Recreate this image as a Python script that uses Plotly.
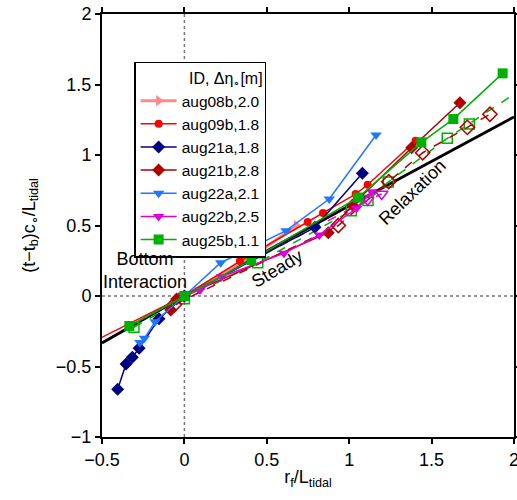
import plotly.graph_objects as go

# ---- data (normalized r_f/L_tidal , (t-t_b)c/L_tidal) ----
ids = ["aug08b,2.0", "aug09b,1.8", "aug21a,1.8", "aug21b,2.8", "aug22a,2.1", "aug22b,2.5", "aug25b,1.1"]

aug08b_x = [0.0, 0.45, 0.68]
aug08b_y = [0.0, 0.31, 0.50]

aug09b_x = [-0.55, 0.0, 0.337, 0.434, 0.748, 0.841, 1.039, 1.112, 1.403]
aug09b_y = [-0.322, 0.0, 0.248, 0.312, 0.525, 0.589, 0.723, 0.789, 1.101]

aug21a_x = [-0.405, -0.354, -0.316, -0.275, -0.154, 0.0, 0.792, 1.080]
aug21a_y = [-0.662, -0.482, -0.435, -0.371, -0.161, 0.0, 0.487, 0.870]

aug21b_x = [-0.083, -0.047, 0.873, 1.02, 1.379, 1.672]
aug21b_y = [-0.099, -0.021, 0.449, 0.645, 1.052, 1.371]
aug21b_open_x = [-0.06, 0.934, 1.240, 1.446, 1.717, 1.854]
aug21b_open_y = [-0.06, 0.500, 0.811, 1.016, 1.196, 1.289]

aug22a_x = [-0.27, -0.243, -0.178, 0.0, 0.220, 0.617, 0.879, 1.163]
aug22a_y = [-0.33, -0.300, -0.182, 0.0, 0.236, 0.463, 0.688, 1.142]

aug22b_x = [0.0, 0.095, 0.226, 0.604, 0.819, 1.045, 1.136]
aug22b_y = [0.0, 0.043, 0.137, 0.303, 0.433, 0.622, 0.740]
aug22b_open_x = [0.0, 1.112, 1.197]
aug22b_open_y = [0.0, 0.681, 0.723]

aug25b_x = [-0.334, 0.0, 0.406, 1.053, 1.438, 1.632, 1.931]
aug25b_y = [-0.213, 0.0, 0.255, 0.698, 1.090, 1.255, 1.579]
aug25b_open_x = [-0.306, 0.0, 0.445, 1.013, 1.114, 1.237, 1.595, 1.729, 2.05]
aug25b_open_y = [-0.222, -0.02, 0.236, 0.604, 0.678, 0.808, 1.118, 1.220, 1.47]

theory_x = [-0.5, 0.0, 1.0, 2.0]
theory_y = [-0.333, 0.0, 0.64, 1.27]

C08 = "#ff8a8a"
C09 = "#ff0000"
C21a = "#000080"
C21b = "#b00000"
C22a = "#1e78ff"
C22b = "#dd00dd"
C25 = "#00b000"

fig = go.Figure()

# theory line
fig.add_trace(go.Scatter(x=theory_x, y=theory_y, mode="lines",
                         line=dict(color="black", width=2.8), showlegend=False, hoverinfo="skip"))

# open (dashed) series
fig.add_trace(go.Scatter(x=aug25b_open_x, y=aug25b_open_y, mode="lines+markers",
                         line=dict(color=C25, width=1.5, dash="dash"),
                         marker=dict(symbol="square-open", size=10, color=C25, line=dict(width=1.5)),
                         showlegend=False))
fig.add_trace(go.Scatter(x=aug21b_open_x, y=aug21b_open_y, mode="lines+markers",
                         line=dict(color=C21b, width=1.5, dash="dash"),
                         marker=dict(symbol="diamond-open", size=11, color=C21b, line=dict(width=1.5)),
                         showlegend=False))
fig.add_trace(go.Scatter(x=aug22b_open_x, y=aug22b_open_y, mode="lines+markers",
                         line=dict(color=C22b, width=1.5, dash="dash"),
                         marker=dict(symbol="triangle-down-open", size=11, color=C22b, line=dict(width=1.5)),
                         showlegend=False))

series = [
    (aug08b_x, aug08b_y, C08, "triangle-right", 10, ids[0], 3),
    (aug09b_x, aug09b_y, C09, "circle", 8, ids[1], 1.5),
    (aug21a_x, aug21a_y, C21a, "diamond", 10, ids[2], 1.5),
    (aug21b_x, aug21b_y, C21b, "diamond", 10, ids[3], 1.5),
    (aug22a_x, aug22a_y, C22a, "triangle-down", 10, ids[4], 1.5),
    (aug22b_x, aug22b_y, C22b, "triangle-down", 10, ids[5], 1.5),
    (aug25b_x, aug25b_y, C25, "square", 10, ids[6], 1.5),
]
for xs, ys, c, sym, sz, name, lw in series:
    fig.add_trace(go.Scatter(x=xs, y=ys, mode="lines+markers", name=name,
                             line=dict(color=c, width=lw),
                             marker=dict(symbol=sym, size=sz, color=c)))

# dotted zero lines
fig.add_shape(type="line", x0=0, x1=0, y0=-1, y1=2, xref="x", yref="y",
              line=dict(color="#777777", width=1.5, dash="dot"), layer="below")
fig.add_shape(type="line", x0=-0.5, x1=2, y0=0, y1=0, xref="x", yref="y",
              line=dict(color="#777777", width=1.5, dash="dot"), layer="below")

FAM = "Liberation Sans, Arial, sans-serif"
fnt = dict(family=FAM, size=18, color="black")

fig.add_annotation(x=-0.237, y=0.18, text="Bottom<br>Interaction", showarrow=False,
                   font=dict(family=FAM, size=18, color="black"))
fig.add_annotation(x=0.56, y=0.195, text="Steady", showarrow=False, textangle=-31,
                   font=dict(family=FAM, size=18, color="black"))
fig.add_annotation(x=1.385, y=0.735, text="Relaxation", showarrow=False, textangle=-44,
                   font=dict(family=FAM, size=18, color="black"))

axis_common = dict(showgrid=False, zeroline=False, showline=True, linecolor="black", linewidth=2,
                   mirror="ticks", ticks="outside", ticklen=5, tickwidth=1.5, tickcolor="black",
                   tickfont=fnt, automargin=False, ticklabeloverflow="allow")

fig.update_layout(
    width=517, height=500,
    margin=dict(l=102, r=3, t=14, b=63),
    plot_bgcolor="white", paper_bgcolor="white",
    font=fnt,
    xaxis=dict(range=[-0.5, 2], tickvals=[-0.5, 0, 0.5, 1, 1.5, 2],
               ticktext=["\u22120.5", "0", "0.5", "1", "1.5", "2"],
               title=dict(text="r<sub>f</sub>/L<sub>tidal</sub>", font=fnt, standoff=2),
               **axis_common),
    yaxis=dict(range=[-1, 2], tickvals=[-1, -0.5, 0, 0.5, 1, 1.5, 2],
               ticktext=["\u22121", "\u22120.5", "0", "0.5", "1", "1.5", "2"],
               title=dict(text="(t\u2212t<sub>b</sub>)c<sub>\u2218</sub>/L<sub>tidal</sub>", font=fnt, standoff=16),
               **axis_common),
    legend=dict(x=0.078, y=0.887, xanchor="left", yanchor="top",
                bgcolor="white", bordercolor="black", borderwidth=1.5,
                font=dict(family=FAM, size=15.5, color="black"),
                title=dict(text="ID, \u0394\u03b7<sub>\u2218</sub>[m]", side="top right",
                           font=dict(family=FAM, size=16, color="black")),
                tracegroupgap=0, itemwidth=36),
    showlegend=True,
)

fig.write_html("out.html")
